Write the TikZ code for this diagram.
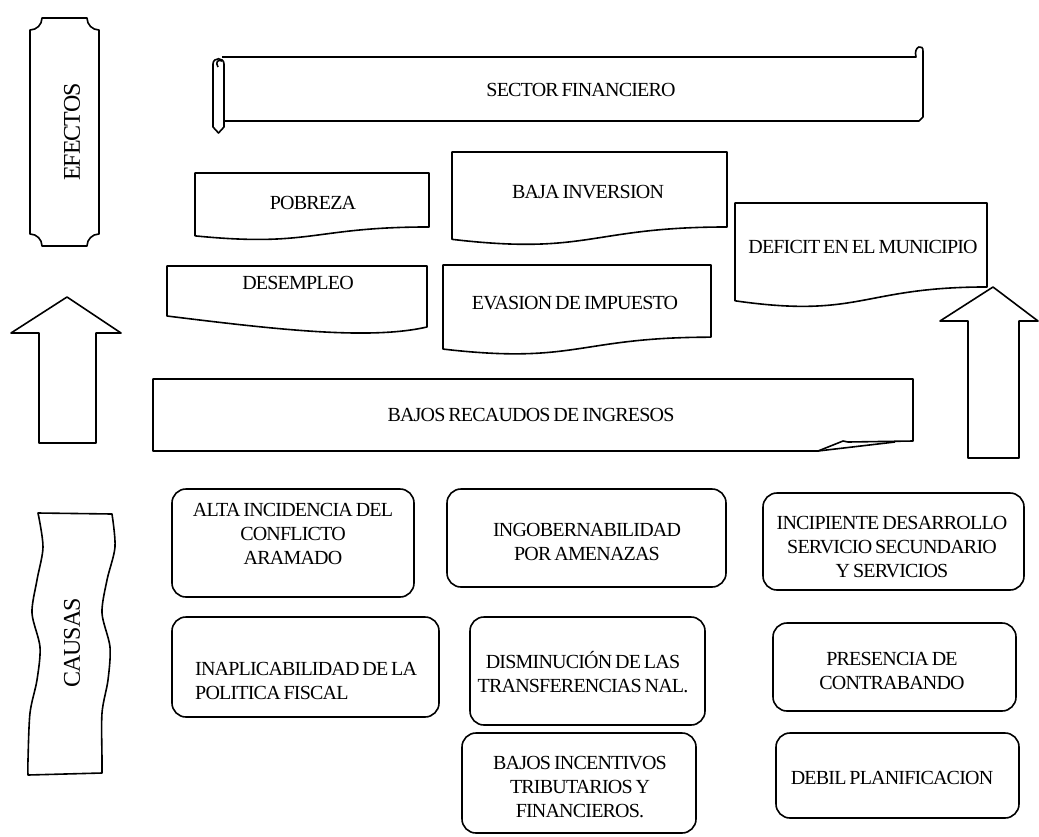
\documentclass[tikz,border=0pt]{standalone}
\usepackage{fontspec}
\setmainfont{Liberation Serif}[LetterSpace=-4,WordSpace=0.7]
\tikzset{
  shp/.style={draw=black, line width=1.6pt, line join=round, fill=white},
  lbl/.style={font=\fontsize{20}{24}\selectfont, inner sep=0pt, align=center},
  biglbl/.style={font=\fontsize{24}{28}\selectfont, inner sep=0pt, rotate=90},
  rbox/.style={shp, rounded corners=14pt, inner sep=0pt},
}
\newcommand\docbox[4]{% L T R H
  \draw[shp] (#1,#2) -- (#3,#2) -- (#3,{#2+0.802*#4})
    .. controls ({(#1+#3)/2},{#2+0.802*#4}) and ({(#1+#3)/2},{#2+1.107*#4}) ..
    (#1,{#2+0.934*#4}) -- cycle;}
\begin{document}
\begin{tikzpicture}[x=1pt,y=-1pt]
\useasboundingbox (0,0) rectangle (1039,836);

% EFECTOS plaque
\draw[shp] (30,30) -- (30,234) .. controls (36.6,234) and (42,239.4) .. (42,246)
  -- (87,246) .. controls (87,239.4) and (92.4,234) .. (99,234)
  -- (99,30) .. controls (92.4,30) and (87,24.6) .. (87,18)
  -- (42,18) .. controls (42,24.6) and (36.6,30) .. (30,30) -- cycle;
\node[biglbl] (efectos) at (72,132) {EFECTOS};

% SECTOR FINANCIERO scroll
\draw[shp] (222,57) -- (916,57) .. controls (913,46) and (924,43) .. (923,52)
  -- (923,117) -- (919,121) -- (224,121);
\draw[shp] (213,64) .. controls (213,57) and (224,57) .. (224,64) -- (224,127)
  -- (218.5,133) -- (213,127) -- cycle;
\draw[shp] (218,67) .. controls (215,62) and (218,59) .. (222,61);
\node[lbl] (sector) at (581,90) {SECTOR FINANCIERO};

% Document shapes
\docbox{195}{173}{429}{67.3}
\node[lbl] (pobreza) at (313,203) {POBREZA};
\docbox{452}{152}{727}{93.5}
\node[lbl] (baja) at (588,192) {BAJA INVERSION};
\docbox{443}{265}{711}{90}
\node[lbl] (evasion) at (575,303) {EVASION DE IMPUESTO};
\docbox{735}{203}{987}{104.7}
\node[lbl] (deficit) at (863,247) {DEFICIT EN EL MUNICIPIO};
\draw[shp] (167,266) -- (427,266) -- (427,327)
  .. controls (370,340) and (280,330) .. (167,316) -- cycle;
\node[lbl] (desempleo) at (298,283) {DESEMPLEO};

% Arrows
\draw[shp] (67,297) -- (121,333) -- (96,333) -- (96,443) -- (39,443) -- (39,333) -- (11,333) -- cycle;
\draw[shp] (993,287) -- (1038,321) -- (1019,321) -- (1019,458) -- (968,458) -- (968,321) -- (940,321) -- cycle;

% BAJOS RECAUDOS
\draw[shp] (153,379) -- (913,379) -- (913,441) -- (848,442) -- (843,441) -- (818,451) -- (153,451) -- cycle;
\draw[shp] (818,451) -- (895,442);
\node[lbl] (recaudos) at (531,415) {BAJOS\ RECAUDOS DE INGRESOS};

% CAUSAS wave
\draw[shp] plot[smooth] coordinates {(38,513) (43,547) (37,580) (32,613) (40,647) (37,680) (30,713) (28,760) (28,775)}
  -- plot[smooth] coordinates {(102,773) (102,760) (102,713) (108,680) (110,647) (102,613) (107,580) (115,547) (112,514)}
  -- cycle;
\node[biglbl] (causas) at (72,643) {CAUSAS};

% Cause boxes
\node[rbox, minimum width=242pt, minimum height=108pt] (b1) at (293,543) {};
\node[lbl] (t1) at (293,534) {ALTA INCIDENCIA DEL\\CONFLICTO\\ARAMADO};
\node[rbox, minimum width=279pt, minimum height=98pt] (b2) at (586.5,538) {};
\node[lbl] (t2) at (587,542) {INGOBERNABILIDAD\\POR AMENAZAS};
\node[rbox, minimum width=261pt, minimum height=97pt] (b3) at (893.5,541.5) {};
\node[lbl] (t3) at (892,547) {INCIPIENTE DESARROLLO\\SERVICIO SECUNDARIO\\Y SERVICIOS};
\node[rbox, minimum width=267pt, minimum height=100pt] (b4) at (305.5,667) {};
\node[lbl, align=left, anchor=west] (t4) at (195,681) {INAPLICABILIDAD DE LA\\POLITICA FISCAL};
\node[rbox, minimum width=235pt, minimum height=108pt] (b5) at (587.5,671) {};
\node[lbl] (t5) at (583,672) {DISMINUCIÓN DE LAS\\TRANSFERENCIAS NAL.};
\node[rbox, minimum width=243pt, minimum height=88pt] (b6) at (894.5,667) {};
\node[lbl] (t6) at (892,671) {PRESENCIA DE\\CONTRABANDO};
\node[rbox, minimum width=234pt, minimum height=100pt] (b7) at (579,783) {};
\node[lbl] (t7) at (580,787) {BAJOS INCENTIVOS\\TRIBUTARIOS Y\\FINANCIEROS.};
\node[rbox, minimum width=243pt, minimum height=85pt] (b8) at (897.5,775.5) {};
\node[lbl] (t8) at (892,778) {DEBIL PLANIFICACION};
\end{tikzpicture}
\end{document}
